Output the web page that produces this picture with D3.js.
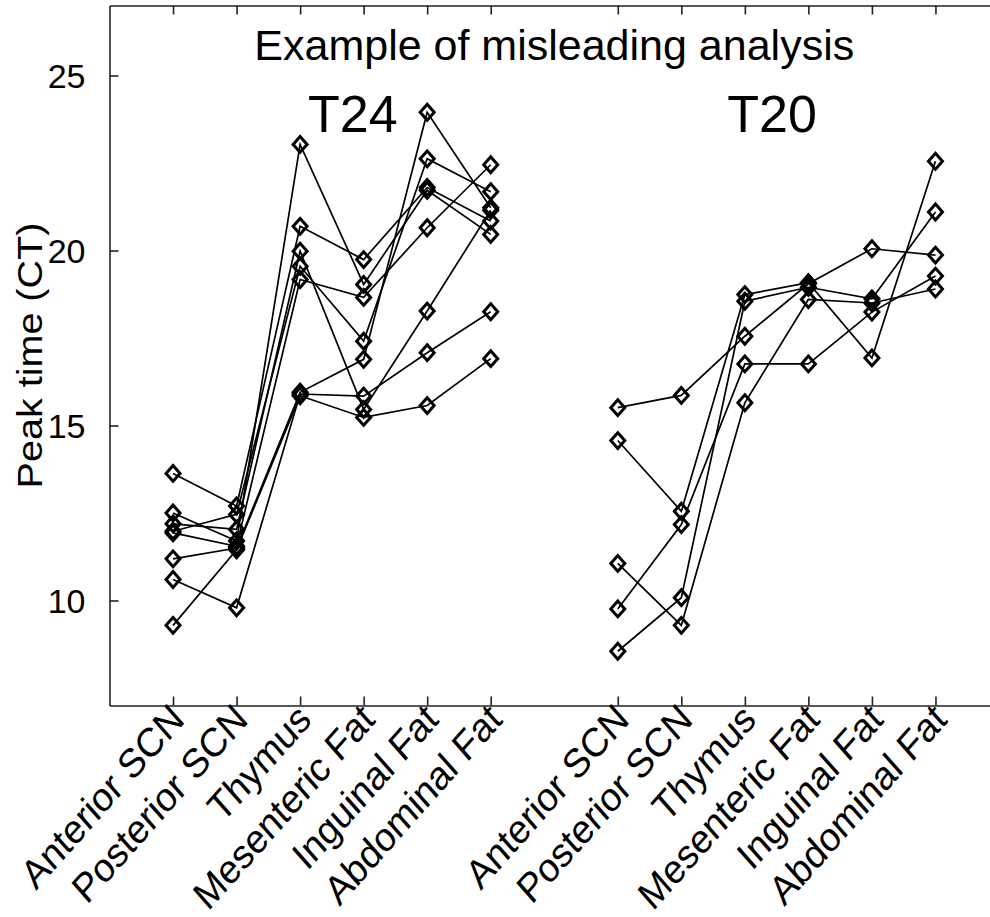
<!DOCTYPE html>
<html>
<head>
<meta charset="utf-8">
<script src="https://cdn.jsdelivr.net/npm/d3@7"></script>
<style>
  body { margin: 0; background: #fff; }
  text { font-family: "Liberation Sans", Arial, sans-serif; fill: #000; }
</style>
</head>
<body>
<div id="container"></div>
<script>
// tissues along the x axis, repeated for each group
var tissues = ["Anterior SCN", "Posterior SCN", "Thymus", "Mesenteric Fat", "Inguinal Fat", "Abdominal Fat"];
var groups = ["T24", "T20"];
var yTicks = [10, 15, 20, 25];

// peak times per animal, one value per tissue (same order as tissues)
var t24Lines = [
  [13.63, 12.70, 20.69, 19.74, 21.80, 20.84],
  [12.50, 11.70, 23.03, 19.03, 21.72, 20.46],
  [12.19, 12.03, 19.98, 15.46, 18.27, 21.15],
  [11.98, 12.46, 19.55, 17.41, 22.62, 21.68],
  [11.93, 11.55, 19.17, 18.66, 20.65, 22.45],
  [11.19, 11.50, 15.95, 16.89, 23.95, 21.22],
  [10.60,  9.79, 15.90, 15.84, 17.08, 18.25],
  [ 9.29, 11.45, 15.85, 15.23, 15.57, 16.91]
];

var t20Lines = [
  [15.51, 15.86, 17.55, 19.05, 20.05, 19.87],
  [14.57, 12.55, 18.74, 19.08, 16.93, 22.55],
  [11.06,  9.29, 15.65, 18.60, 18.50, 18.90],
  [ 9.76, 12.17, 16.76, 16.76, 18.24, 19.27],
  [ 8.55, 10.08, 18.55, 18.95, 18.62, 21.10]
];

var W = 990, H = 917;
var mLeft = 109.5, mRight = 999, mTop = 5.5, mBottom = 705.5;
var stretch = 1.13;   // the source figure is a bit taller than wide

var svg = d3.select("#container")
  .append("svg")
    .attr("width", W)
    .attr("height", H)
    .style("display", "block");

var x = d3.scaleLinear().domain([0, 14]).range([mLeft, mRight]);
var y = d3.scaleLinear().domain([7, 27]).range([mBottom, mTop]);

// position of tissue i in group g
function pos(g, i){ return g * 7 + i + 1; }

var tickPositions = [];
var tickLabels = [];
groups.forEach(function(g, gi){
  tissues.forEach(function(t, i){
    tickPositions.push(pos(gi, i));
    tickLabels.push(t);
  });
});

// series lines + diamond markers
var line = d3.line()
  .x(function(d){ return x(d.x); })
  .y(function(d){ return y(d.v); });

// slightly tall diamond
var tallDiamond = {
  draw: function(ctx, size){
    var w = Math.sqrt(size) / 2, h = w * stretch;
    ctx.moveTo(0, -h);
    ctx.lineTo(w, 0);
    ctx.lineTo(0, h);
    ctx.lineTo(-w, 0);
    ctx.closePath();
  }
};
var diamond = d3.symbol().type(tallDiamond).size(196);

[t24Lines, t20Lines].forEach(function(lines, gi){
  lines.forEach(function(vals){
    var pts = vals.map(function(v, i){ return {x: pos(gi, i), v: v}; });
    var s = svg.append("g");
    s.append("path")
      .attr("d", line(pts))
      .attr("fill", "none")
      .attr("stroke", "#000")
      .attr("stroke-width", 1.7);
    s.selectAll("path.mk")
      .data(pts)
      .enter().append("path")
        .attr("class", "mk")
        .attr("d", diamond)
        .attr("transform", function(d){ return "translate(" + x(d.x) + "," + y(d.v) + ")"; })
        .attr("fill", "none")
        .attr("stroke", "#000")
        .attr("stroke-width", 3);
  });
});

// axes box (ticks pointing inward on all four sides)
var bottomAxis = d3.axisBottom(x).tickValues(tickPositions).tickSizeInner(-9).tickSizeOuter(0).tickFormat("");
var topAxis = d3.axisTop(x).tickValues(tickPositions).tickSizeInner(-9).tickSizeOuter(0).tickFormat("");
var leftAxis = d3.axisLeft(y).tickValues(yTicks).tickSizeInner(-9).tickSizeOuter(0).tickFormat("");
var rightAxis = d3.axisRight(y).tickValues(yTicks).tickSizeInner(-9).tickSizeOuter(0).tickFormat("");

svg.append("g").attr("transform", "translate(0," + mBottom + ")").call(bottomAxis);
svg.append("g").attr("transform", "translate(0," + mTop + ")").call(topAxis);
svg.append("g").attr("transform", "translate(" + mLeft + ",0)").call(leftAxis);
svg.append("g").attr("transform", "translate(" + mRight + ",0)").call(rightAxis);
svg.selectAll(".domain, .tick line").attr("stroke", "#222").attr("stroke-width", 1.6);

// y tick labels
svg.selectAll("text.ytl")
  .data(yTicks)
  .enter().append("text")
    .attr("class", "ytl")
    .attr("x", mLeft - 24)
    .attr("y", function(d){ return y(d); })
    .attr("dy", "0.36em")
    .attr("text-anchor", "end")
    .style("font-size", "34px")
    .text(function(d){ return d; });

// rotated x tick labels (45 degrees, stretched vertically like the source)
svg.selectAll("text.xtl")
  .data(tickPositions)
  .enter().append("text")
    .attr("class", "xtl")
    .attr("text-anchor", "end")
    .attr("transform", function(d){
      return "translate(" + (x(d) + 13) + "," + (mBottom + 16) + ") scale(1," + stretch + ") rotate(-45)";
    })
    .style("font-size", "36px")
    .text(function(d, i){ return tickLabels[i]; });

// y axis label
svg.append("text")
  .attr("transform", "translate(42," + ((mTop + mBottom) / 2) + ") scale(1," + stretch + ") rotate(-90)")
  .attr("text-anchor", "middle")
  .style("font-size", "35px")
  .text("Peak time (CT)");

// title
svg.append("text")
  .attr("x", (mLeft + mRight) / 2)
  .attr("y", 60)
  .attr("text-anchor", "middle")
  .style("font-size", "43px")
  .text("Example of misleading analysis");

// group labels
var groupLabelPos = [3.83, 10.43];
svg.selectAll("text.grp")
  .data(groups)
  .enter().append("text")
    .attr("class", "grp")
    .attr("x", function(d, i){ return x(groupLabelPos[i]); })
    .attr("y", 132)
    .attr("text-anchor", "middle")
    .style("font-size", "52px")
    .text(function(d){ return d; });
</script>
</body>
</html>
